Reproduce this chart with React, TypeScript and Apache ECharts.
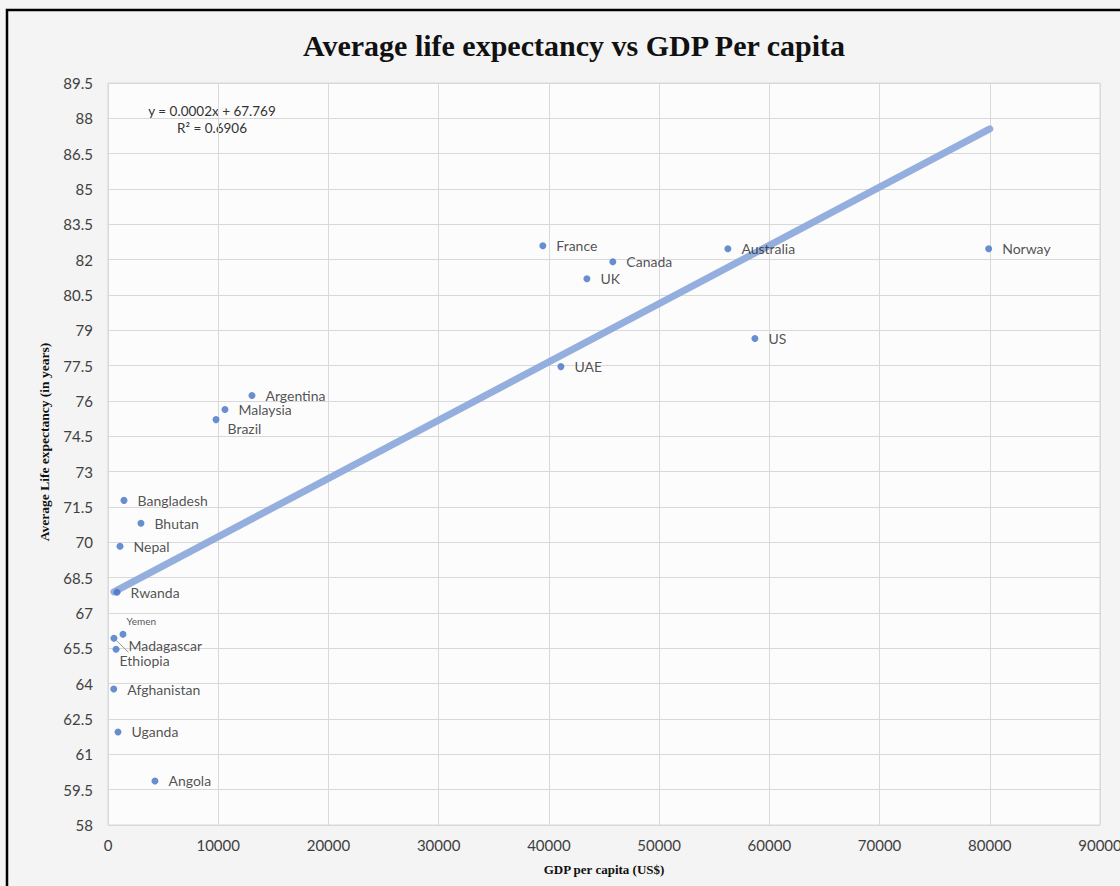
import React, { useEffect, useRef } from "react";
import * as echarts from "echarts";

const countries = [
  "France", "Canada", "UK", "Australia", "Norway", "US", "UAE",
  "Argentina", "Malaysia", "Brazil", "Bangladesh", "Bhutan", "Nepal",
  "Rwanda", "Yemen", "Madagascar", "Ethiopia", "Afghanistan", "Uganda", "Angola",
];
const gdpPerCapita = [
  39450, 45800, 43450, 56240, 79900, 58690, 41090,
  13060, 10610, 9800, 1450, 2990, 1090,
  820, 1360, 540, 730, 520, 910, 4260,
];
const lifeExpectancy = [
  82.59, 81.91, 81.19, 82.46, 82.46, 78.65, 77.46,
  76.23, 75.64, 75.21, 71.78, 70.81, 69.83,
  67.88, 66.10, 65.93, 65.46, 63.77, 61.95, 59.87,
];
const trendX = [540, 80000];
const trendY = [67.9, 87.55];
const yTicks = { min: 58, max: 89.5, interval: 1.5 };
const xTicks = { min: 0, max: 90000, interval: 10000 };
const equationLines = ["y = 0.0002x + 67.769", "R\u00B2 = 0.6906"];

const labelFont = "Lato, 'Open Sans', sans-serif";

const labelOverrides: Record<string, any> = {
  Brazil: { offset: [-2, 9] },
  Yemen: { fontSize: 10, offset: [-10, -13] },
  Madagascar: { offset: [1, 7] },
  Ethiopia: { offset: [-10, 11] },
};

export default function App() {
  const ref = useRef<HTMLDivElement>(null);
  useEffect(() => {
    if (!ref.current) return;
    const chart = echarts.init(ref.current, undefined, {
      renderer: "svg",
      width: 1120,
      height: 886,
    });
    const points = countries.map((name, i) => {
      const o = labelOverrides[name];
      const item: any = { name, value: [gdpPerCapita[i], lifeExpectancy[i]] };
      if (o) {
        item.label = { ...o };
        if (name === "Madagascar") {
          item.labelLine = { show: true, lineStyle: { color: "#9a9a9a", width: 1 } };
        }
      }
      return item;
    });
    chart.setOption({
      animation: false,
      backgroundColor: "#f4f4f4",
      title: {
        text: "Average life expectancy vs GDP Per capita",
        left: 298,
        top: 25,
        textStyle: {
          fontFamily: "'Liberation Serif', 'DejaVu Serif', serif",
          fontWeight: "bold",
          fontSize: 30,
          color: "#111",
        },
      },
      grid: {
        left: 108,
        right: 20,
        top: 83,
        bottom: 61,
        outerBoundsMode: "none",
        containLabel: false,
        show: true,
        backgroundColor: "#fcfcfc",
        borderColor: "#d9d9d9",
        borderWidth: 1,
      },
      xAxis: {
        type: "value",
        min: xTicks.min,
        max: xTicks.max,
        interval: xTicks.interval,
        name: "GDP per capita (US$)",
        nameLocation: "middle",
        nameGap: 38,
        nameTextStyle: {
          fontFamily: "'Liberation Serif', serif",
          fontWeight: "bold",
          fontSize: 13,
          color: "#111",
        },
        axisLine: { show: false },
        axisTick: { show: false },
        axisLabel: {
          fontFamily: labelFont,
          fontSize: 15,
          color: "#404040",
          margin: 12,
          formatter: (v: number) => String(v),
        },
        splitLine: { show: true, lineStyle: { color: "#d9d9d9", width: 1 } },
      },
      yAxis: {
        type: "value",
        min: yTicks.min,
        max: yTicks.max,
        interval: yTicks.interval,
        name: "Average Life expectancy (in years)",
        nameLocation: "middle",
        nameGap: 57,
        nameTextStyle: {
          fontFamily: "'Liberation Serif', serif",
          fontWeight: "bold",
          fontSize: 13.5,
          color: "#111",
          padding: [0, 0, 0, 24],
        },
        axisLine: { show: false },
        axisTick: { show: false },
        axisLabel: { fontFamily: labelFont, fontSize: 15, color: "#404040", margin: 15 },
        splitLine: { show: true, lineStyle: { color: "#d9d9d9", width: 1 } },
      },
      series: [
        {
          type: "line",
          data: trendX.map((x, i) => [x, trendY[i]]),
          symbol: "none",
          lineStyle: { color: "#8eaadb", width: 7, cap: "round", opacity: 0.95 },
          z: 1,
          silent: true,
        },
        {
          type: "scatter",
          data: points,
          symbolSize: 7,
          itemStyle: { color: "#4472c4" },
          z: 3,
          label: {
            show: true,
            position: "right",
            distance: 10,
            formatter: "{b}",
            fontFamily: labelFont,
            fontSize: 14,
            color: "#262626",
          },
        },
      ],
      graphic: [
        {
          type: "text",
          x: 212,
          y: 111,
          style: {
            text: equationLines[0],
            fontFamily: labelFont,
            fontSize: 13.5,
            fill: "#333",
            align: "center",
            verticalAlign: "middle",
          },
        },
        {
          type: "text",
          x: 212,
          y: 128,
          style: {
            text: equationLines[1],
            fontFamily: labelFont,
            fontSize: 13.5,
            fill: "#333",
            align: "center",
            verticalAlign: "middle",
          },
        },
        {
          type: "rect",
          shape: { x: 7, y: 10, width: 1200, height: 1000 },
          style: { fill: "none", stroke: "#000", lineWidth: 2.5 },
          silent: true,
        },
      ],
    });
    return () => chart.dispose();
  }, []);
  return (
    <div
      ref={ref}
      style={{ position: "fixed", left: 0, top: 0, width: 1120, height: 886 }}
    />
  );
}
